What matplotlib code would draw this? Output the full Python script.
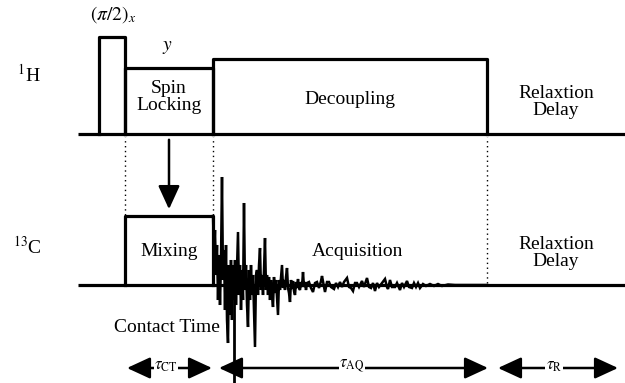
import matplotlib
matplotlib.use("Agg")
import matplotlib.pyplot as plt
from matplotlib.patches import FancyArrowPatch

plt.rcParams["font.family"] = ["Liberation Serif", "DejaVu Serif"]
plt.rcParams["mathtext.fontset"] = "stix"

# ---- sequence timing (horizontal units) ----
t_start = 78
t_pulse = [99, 125]          # (pi/2)x pulse on 1H
t_contact = [125, 213]       # spin locking / mixing
t_acq = [213, 487]           # decoupling / acquisition
t_end = 625

# ---- channel levels and pulse amplitudes ----
base_H = 249
base_C = 98
amp_pulse = 97
amp_spinlock = 66
amp_decouple = 75
amp_mixing = 69

# ---- 13C free induction decay ----
# densely sampled start of the decay (one sample per unit)
fid_t_early = list(range(213, 308))
fid_amp_early = [69, 30, 55, 10, 40, -15, 30, -20, 25, 108,
                 5, 35, -25, 40, -35, -58, 20, -30, 25, -35,
                 20, -15, 25, -20, 15, 53, -10, 20, -25, 15,
                 -15, 82, -5, 20, -20, -42, 15, -15, 20, -10,
                 10, -25, -62, 10, 15, -10, 20, 37, -5, 10,
                 -10, 15, 47, -5, 10, -10, 8, -15, 5, -10,
                 -22, 8, -8, 5, -12, -30, 5, -5, 8, 20,
                 -3, 5, -5, 8, 17, -3, -8, -17, 5, -4,
                 4, -6, -10, 3, -3, 6, -3, -5, 3, -2,
                 13, -2, 3, -5, 2]
# tail of the decay
fid_t_late = [309, 311, 313, 315, 317, 319, 321, 322, 324, 325, 327, 329,
              331, 334, 336, 338, 340, 342, 344, 347, 349, 351, 353, 355,
              357, 359, 362, 364, 367, 369, 371, 373, 375, 377, 379, 382,
              385, 387, 388, 390, 392, 395, 397, 400, 402, 404, 407, 409,
              412, 414, 416, 418, 420, 423, 426, 430, 434, 438, 442, 448,
              455, 487]
fid_amp_late = [3, -3, -7, 2, 3, -3, 4, 9, -2, -7, 3, 3,
                -2, -4, 2, -2, 3, -2, 3, 7, -2, -3, -6, 2,
                2, -2, 4, -2, 7, -2, -3, 2, -6, 2, -2, 2,
                6, -2, -4, 5, -2, -2, 2, -5, 2, -2, 4, -2,
                -3, 2, -2, 2, -3, 1, -1, 1, -1, 1, -1, 0.5,
                0, 0]

fid_t = fid_t_early + fid_t_late
fid_amp = fid_amp_early + fid_amp_late

fig = plt.figure(figsize=(6.25, 3.83), dpi=100)
ax = fig.add_axes([0, 0, 1, 1])
ax.set_xlim(0, 625)
ax.set_ylim(0, 383)
ax.axis("off")

lw = 2.3
k = "black"

# 1H channel
ax.plot([t_start, t_end], [base_H, base_H], color=k, lw=lw, solid_capstyle="butt")
ax.plot([t_pulse[0], t_pulse[0], t_pulse[1], t_pulse[1]],
        [base_H, base_H + amp_pulse, base_H + amp_pulse, base_H], color=k, lw=lw)
ax.plot([t_contact[0], t_contact[0], t_contact[1], t_contact[1]],
        [base_H, base_H + amp_spinlock, base_H + amp_spinlock, base_H], color=k, lw=lw)
ax.plot([t_acq[0], t_acq[0], t_acq[1], t_acq[1]],
        [base_H, base_H + amp_decouple, base_H + amp_decouple, base_H], color=k, lw=lw)

# 13C channel
ax.plot([t_start, t_end], [base_C, base_C], color=k, lw=lw, solid_capstyle="butt")
ax.plot([t_contact[0], t_contact[0], t_contact[1], t_contact[1]],
        [base_C, base_C + amp_mixing, base_C + amp_mixing, base_C], color=k, lw=lw)
ax.plot(fid_t, [base_C + a for a in fid_amp], color=k, lw=1.8, solid_joinstyle="miter")

# dotted guides between channels
for x in [t_contact[0], t_contact[1], t_acq[1]]:
    ax.plot([x, x], [base_C + 2, base_H - 3], color=k, lw=1.0, ls=(0, (1, 2.5)))

# cross-polarisation arrow
xm = (t_contact[0] + t_contact[1]) / 2
ax.add_patch(FancyArrowPatch((xm, base_H - 3), (xm, base_C + amp_mixing + 4),
                             arrowstyle="-|>,head_length=1.2,head_width=0.55",
                             mutation_scale=12, color=k, lw=1.8))

# acquisition start marker
ax.plot([234, 234], [0, base_C], color=k, lw=2.0)

# channel labels
ax.text(17, 308, r"$^{1}$H", fontsize=14, ha="left", va="center")
ax.text(13, 136, r"$^{13}$C", fontsize=14, ha="left", va="center")

fs = 14
ax.text(113, 368, r"$(\pi/2)_x$", fontsize=14, ha="center", va="center")
ax.text(167, 335, r"$y$", fontsize=14, ha="center", va="center")
ax.text(169, 286, "Spin\nLocking", fontsize=fs, ha="center", va="center", linespacing=1.0)
ax.text(350, 284, "Decoupling", fontsize=fs, ha="center", va="center")
ax.text(556, 281, "Relaxtion\nDelay", fontsize=fs, ha="center", va="center", linespacing=1.05)
ax.text(169, 131, "Mixing", fontsize=fs, ha="center", va="center")
ax.text(358, 131, "Acquisition", fontsize=fs, ha="center", va="center")
ax.text(556, 130, "Relaxtion\nDelay", fontsize=fs, ha="center", va="center", linespacing=1.05)
ax.text(167, 56, "Contact Time", fontsize=fs, ha="center", va="center")

# interval arrows
y_arr = 15
def interval(x0, x1, label, xl):
    ax.add_patch(FancyArrowPatch((x0, y_arr), (x1, y_arr),
                                 arrowstyle="<|-|>,head_length=1.3,head_width=0.6",
                                 mutation_scale=11, color=k, lw=1.8,
                                 shrinkA=0, shrinkB=0))
    ax.text(xl, y_arr + 2, label, fontsize=12, ha="center", va="center",
            bbox=dict(facecolor="white", edgecolor="none", pad=0.5))

interval(127, 212, r"$\tau_{\mathrm{CT}}$", 166)
interval(219, 488, r"$\tau_{\mathrm{AQ}}$", 352)
interval(498, 618, r"$\tau_{\mathrm{R}}$", 554)

fig.savefig("out.png", dpi=100)
